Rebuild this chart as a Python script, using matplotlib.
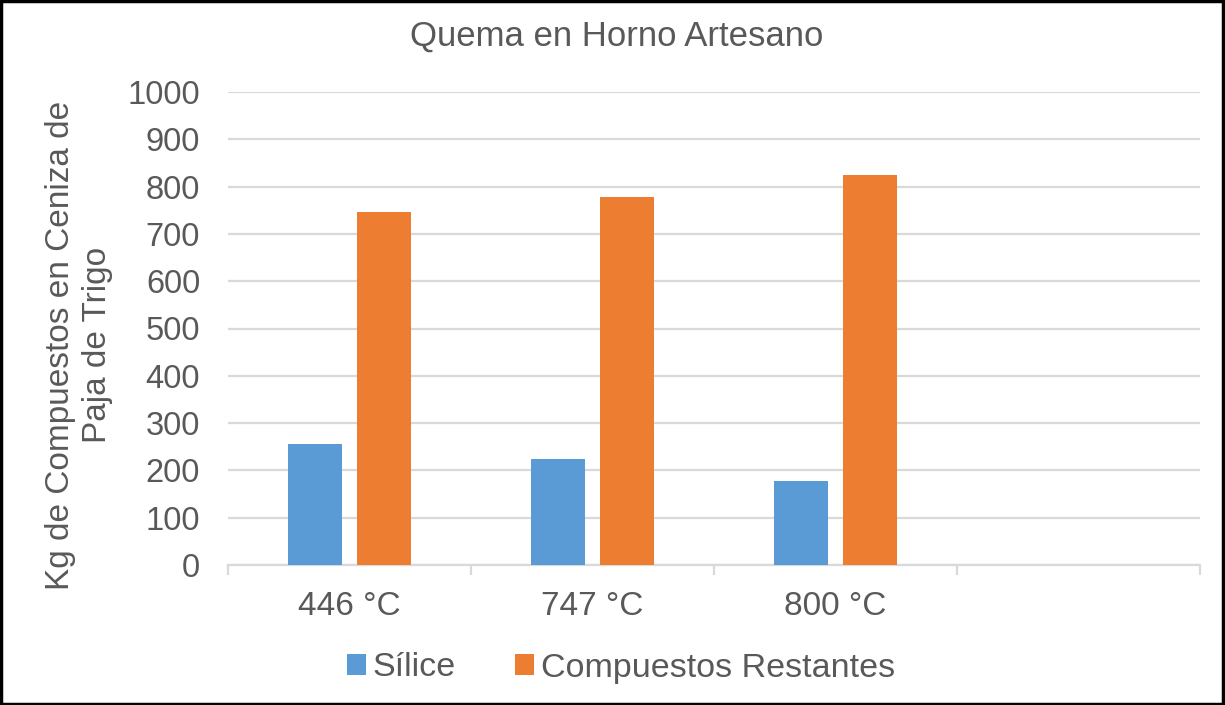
import matplotlib
matplotlib.use("Agg")
import matplotlib.pyplot as plt
from matplotlib.patches import Rectangle
import numpy as np

plt.rcParams['font.family'] = ['Liberation Sans', 'DejaVu Sans']

categories = ["446 °C", "747 °C", "800 °C", ""]
silice = [256, 224, 178]
restantes = [746, 777, 824]
series_names = ["Sílice", "Compuestos Restantes"]
yticks = [0, 100, 200, 300, 400, 500, 600, 700, 800, 900, 1000]

text_color = "#595959"
grid_color = "#d9d9d9"
blue = "#5B9BD5"
orange = "#ED7D31"
fs = 23.5

fig = plt.figure(figsize=(12.25, 7.05), dpi=100)
ax = fig.add_axes([228/1225, 1-565/705, (1200-228)/1225, (565-92)/705])

x = np.arange(len(silice))
w = 0.222
off = 0.143
ax.bar(x - off, silice, w, color=blue, label=series_names[0], zorder=3)
ax.bar(x + off, restantes, w, color=orange, label=series_names[1], zorder=3)

ax.set_xlim(-0.5, len(categories) - 0.5)
ax.set_ylim(0, 1000)
ax.set_yticks(yticks)
ax.yaxis.grid(True, color=grid_color, linewidth=1.6, zorder=0)
ax.set_axisbelow(True)

ax.set_xticks(np.arange(len(categories)))
ax.set_xticklabels(categories)
ax.set_xticks(np.arange(len(categories) + 1) - 0.5, minor=True)
ax.tick_params(axis='x', which='major', length=0, pad=19, labelsize=24, labelcolor=text_color)
ax.tick_params(axis='x', which='minor', length=7, width=1.6, color=grid_color)
ax.tick_params(axis='y', length=0, pad=20, labelsize=fs, labelcolor=text_color)

for s in ['top', 'right', 'left']:
    ax.spines[s].set_visible(False)
ax.spines['bottom'].set_color(grid_color)
ax.spines['bottom'].set_linewidth(1.6)

ax.set_ylabel("Kg de Compuestos en Ceniza de\nPaja de Trigo", fontsize=24,
              color=text_color, linespacing=1.25)
ax.yaxis.set_label_coords(-(228-113)/972, (565-345)/473)

fig.text(617/1225, 1-36/705, "Quema en Horno Artesano", ha='center', va='center',
         fontsize=25, color=text_color)

leg = fig.legend(loc='center', bbox_to_anchor=(621/1225, 1-668/705), ncol=2,
                 frameon=False, fontsize=24.5, handlelength=0.55, handleheight=0.55,
                 handletextpad=0.2, columnspacing=1.75, labelcolor=text_color)

fig.patches.append(Rectangle((0.001, 0.002), 0.997, 0.996, transform=fig.transFigure,
                             fill=False, edgecolor='black', linewidth=2.5))

fig.savefig("out.png", dpi=100, facecolor='white')
